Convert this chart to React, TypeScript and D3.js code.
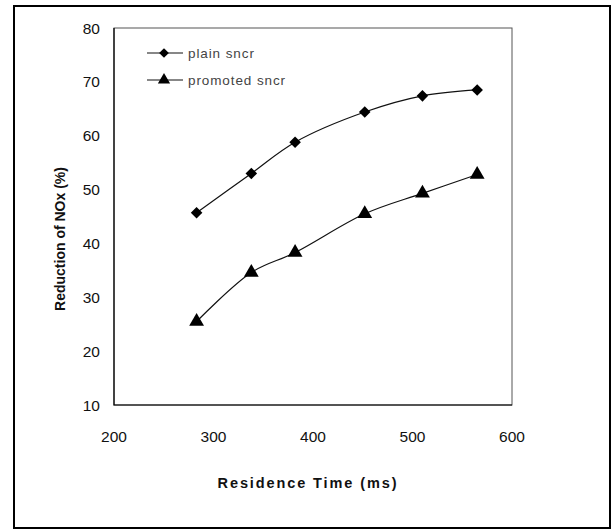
import React, { useEffect, useRef } from 'react';
import * as d3 from 'd3';

// residence time (ms)
const residenceTime = [283, 338, 382, 452, 510, 565];
// reduction of NOx (%)
const plainSncr = [45.7, 53.0, 58.8, 64.4, 67.4, 68.5];
const promotedSncr = [25.5, 34.6, 38.3, 45.5, 49.3, 52.8];

const xTicks = [200, 300, 400, 500, 600];
const yTicks = [10, 20, 30, 40, 50, 60, 70, 80];

const seriesNames = ['plain sncr', 'promoted sncr'];

const App = () => {
  const ref = useRef<SVGSVGElement>(null);

  useEffect(() => {
    const svg = d3.select(ref.current);
    svg.selectAll('*').remove();

    const width = 616;
    const height = 530;
    const font = 'Arial, "Liberation Sans", sans-serif';

    // plot area
    const left = 114;
    const right = 512;
    const top = 28;
    const bottom = 405;

    const x = d3.scaleLinear().domain([200, 600]).range([left, right]);
    const y = d3.scaleLinear().domain([10, 80]).range([bottom, top]);

    svg.append('rect').attr('width', width).attr('height', height).attr('fill', '#fff');

    // outer frame
    svg
      .append('rect')
      .attr('x', 14)
      .attr('y', 6)
      .attr('width', 596)
      .attr('height', 522)
      .attr('fill', 'none')
      .attr('stroke', '#000')
      .attr('stroke-width', 2);

    // plot area border
    svg
      .append('rect')
      .attr('x', left)
      .attr('y', top)
      .attr('width', right - left)
      .attr('height', bottom - top)
      .attr('fill', 'none')
      .attr('stroke', '#555')
      .attr('stroke-width', 1);

    // axes lines
    svg
      .append('path')
      .attr('d', `M${left},${top}V${bottom}H${right}`)
      .attr('fill', 'none')
      .attr('stroke', '#000')
      .attr('stroke-width', 1.2);

    // y tick labels
    svg
      .selectAll('.ytick')
      .data(yTicks)
      .enter()
      .append('text')
      .attr('x', left - 14)
      .attr('y', d => y(d))
      .attr('dy', '0.36em')
      .attr('text-anchor', 'end')
      .attr('font-family', font)
      .attr('font-size', 15.5)
      .attr('fill', '#111')
      .text(d => d);

    // x tick labels
    svg
      .selectAll('.xtick')
      .data(xTicks)
      .enter()
      .append('text')
      .attr('x', d => x(d))
      .attr('y', 442)
      .attr('text-anchor', 'middle')
      .attr('font-family', font)
      .attr('font-size', 15.5)
      .attr('fill', '#111')
      .text(d => d);

    // axis titles
    svg
      .append('text')
      .attr('x', 308)
      .attr('y', 488)
      .attr('text-anchor', 'middle')
      .attr('font-family', font)
      .attr('font-size', 14.5)
      .attr('font-weight', 'bold')
      .attr('letter-spacing', 1.9)
      .attr('fill', '#111')
      .text('Residence Time (ms)');

    svg
      .append('text')
      .attr('transform', `translate(65, 239) rotate(-90)`)
      .attr('text-anchor', 'middle')
      .attr('font-family', font)
      .attr('font-size', 14)
      .attr('font-weight', 'bold')
      .attr('fill', '#111')
      .text('Reduction of NOx (%)');

    const line = d3
      .line<number>()
      .x((d, i) => x(residenceTime[i]))
      .y(d => y(d))
      .curve(d3.curveCatmullRom.alpha(0.5));

    const diamond = d3.symbol().type(d3.symbolDiamond2).size(85);
    const triangle = d3.symbol().type(d3.symbolTriangle).size(95);

    const series = [
      { values: plainSncr, marker: diamond },
      { values: promotedSncr, marker: triangle },
    ];

    series.forEach(s => {
      svg
        .append('path')
        .datum(s.values)
        .attr('d', line)
        .attr('fill', 'none')
        .attr('stroke', '#111')
        .attr('stroke-width', 1.2);

      svg
        .selectAll(null)
        .data(s.values)
        .enter()
        .append('path')
        .attr('d', s.marker)
        .attr('transform', (d, i) => `translate(${x(residenceTime[i])}, ${y(d)})`)
        .attr('fill', '#000');
    });

    // legend
    const legend = svg.append('g').attr('transform', 'translate(147, 53)');
    seriesNames.forEach((name, i) => {
      const g = legend.append('g').attr('transform', `translate(0, ${i * 27})`);
      g.append('line')
        .attr('x1', 0)
        .attr('x2', 36)
        .attr('stroke', '#111')
        .attr('stroke-width', 1.2);
      g.append('path')
        .attr('d', series[i].marker.size(i === 0 ? 60 : 65))
        .attr('transform', 'translate(17, 0)')
        .attr('fill', '#000');
      g.append('text')
        .attr('x', 41)
        .attr('dy', '0.35em')
        .attr('font-family', font)
        .attr('font-size', 13.5)
        .attr('letter-spacing', 0.9)
        .attr('fill', '#444')
        .text(name);
    });
  }, []);

  return (
    <svg
      ref={ref}
      width={616}
      height={530}
      style={{ position: 'absolute', left: 0, top: 0, display: 'block' }}
    />
  );
};

export default App;
